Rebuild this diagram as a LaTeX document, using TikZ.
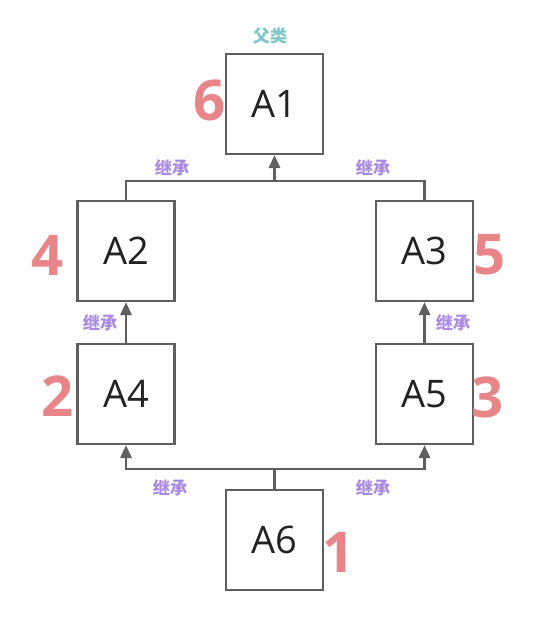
\documentclass[tikz,border=0pt]{standalone}
\usepackage{fontspec}
\setmainfont{Open Sans}
\newfontfamily\cjk{Noto Sans CJK SC}
\usetikzlibrary{arrows.meta}
\definecolor{classborder}{HTML}{5F5F5F}
\definecolor{classtext}{HTML}{222222}
\definecolor{inheritline}{HTML}{5F5F5F}
\definecolor{inherittext}{HTML}{A98BE3}
\definecolor{parenttext}{HTML}{7FC7C9}
\definecolor{ordermark}{HTML}{E88588}
\tikzset{
  class box/.style={
    rectangle, draw=classborder, fill=white, text=classtext,
    line width=1.7pt,
    minimum width=2.425cm, minimum height=2.5cm,
    font=\fontsize{27}{30}\selectfont
  },
  inherit line/.style={
    draw=inheritline, line width=1.7pt
  },
  inherit arrow/.style={
    inherit line,
    -{Triangle[length=3.2mm,width=2.8mm]}
  },
  inherit label/.style={
    text=inherittext, font=\cjk\bfseries\fontsize{12.2}{14}\selectfont,
    inner sep=1pt
  },
  parent label/.style={inherit label, text=parenttext},
  order mark/.style={
    text=ordermark, font=\bfseries\fontsize{40}{42}\selectfont, inner sep=0pt
  }
}

\begin{document}
\begin{tikzpicture}[x=0.025cm,y=-0.025cm]
  \useasboundingbox (0,0) rectangle (538,623);

  \node[class box] (aone) at (274.5,104) {A1};
  \node[class box] (atwo) at (126,251) {A2};
  \node[class box] (athree) at (424.5,251) {A3};
  \node[class box] (afour) at (126,394) {A4};
  \node[class box] (afive) at (424.5,394) {A5};
  \node[class box] (asix) at (274.5,540) {A6};

  \coordinate (topbar) at (274.5,181);
  \coordinate (bottombar) at (274.5,469);

  % upper level joins into A1
  \draw[inherit line] (atwo.north) |- (topbar) -| (athree.north);
  \draw[inherit arrow] (topbar) -- (aone.south);

  \draw[inherit arrow] (afour.north) -- (atwo.south);
  \draw[inherit arrow] (afive.north) -- (athree.south);

  % A6 splits into both branches
  \draw[inherit line] (asix.north) -- (bottombar);
  \draw[inherit arrow] (bottombar) -| (afour.south);
  \draw[inherit arrow] (bottombar) -| (afive.south);

  \node[parent label] (parent) at (270,36) {父类};
  \node[inherit label] (inhtl) at (172,168) {继承};
  \node[inherit label] (inhtr) at (373,168) {继承};
  \node[inherit label] (inhml) at (100,323) {继承};
  \node[inherit label] (inhmr) at (453,323) {继承};
  \node[inherit label] (inhbl) at (170,488) {继承};
  \node[inherit label] (inhbr) at (373,488) {继承};

  \node[order mark] (markone) at (339,552) {1};
  \node[order mark] (marktwo) at (58,396) {2};
  \node[order mark] (markthree) at (488,397) {3};
  \node[order mark] (markfour) at (48,255) {4};
  \node[order mark] (markfive) at (490,255) {5};
  \node[order mark] (marksix) at (210,100) {6};
\end{tikzpicture}
\end{document}
